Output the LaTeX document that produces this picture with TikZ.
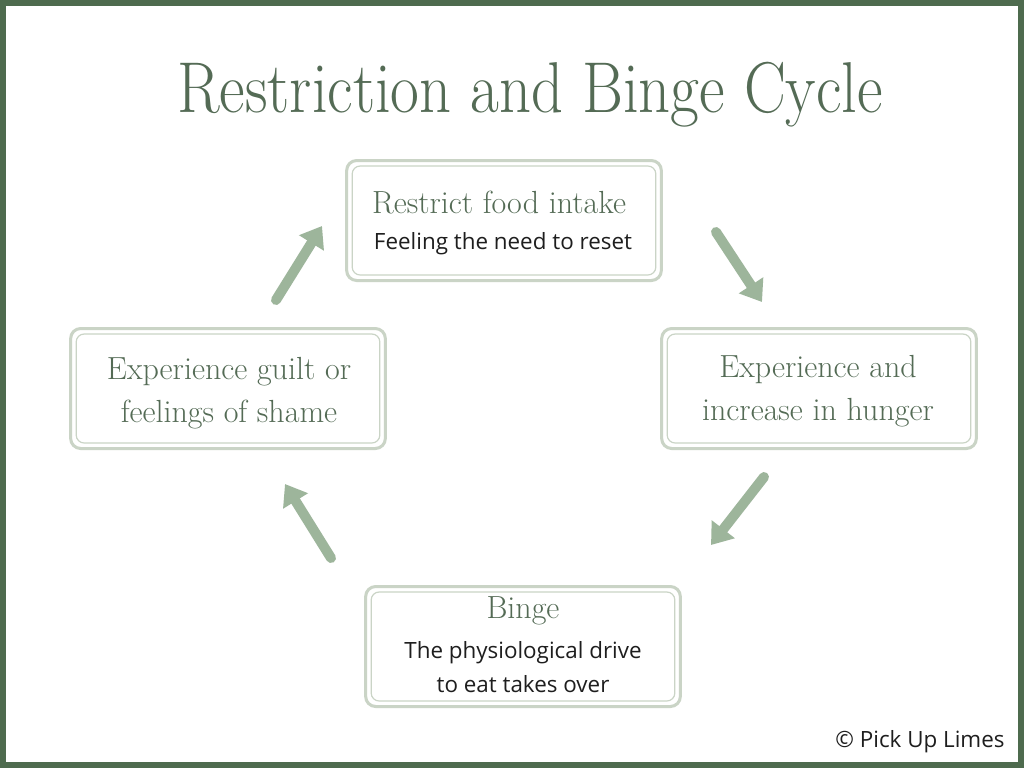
\documentclass[tikz,border=0pt]{standalone}
\usepackage{fontspec}
\setsansfont{Open Sans}
\usetikzlibrary{calc,arrows.meta}

\definecolor{framegreen}{HTML}{4E6B4E}
\definecolor{titlegreen}{HTML}{546B55}
\definecolor{boxline}{HTML}{CAD4C6}
\definecolor{arrowgreen}{HTML}{9DB59B}
\definecolor{bodytext}{HTML}{1E1E1E}

\tikzset{
  stagebox/.style={draw=boxline, line width=2.25pt, rounded corners=7.5pt,
    minimum width=236pt, minimum height=90pt},
  innerline/.style={draw=boxline, line width=0.9pt, rounded corners=6pt},
  headtext/.style={text=titlegreen, align=center, inner sep=0pt,
    font=\fontsize{24}{32}\selectfont},
  subtext/.style={text=bodytext, align=center, inner sep=0pt,
    font=\sffamily\fontsize{16.8}{26}\selectfont},
  cyclearrow/.style={draw=arrowgreen, line width=7.5pt, line cap=round,
    -{Triangle[length=15pt, width=21pt]}}
}

\begin{document}
\begin{tikzpicture}[x=0.75pt, y=-0.75pt]
    % Page and frame
    \useasboundingbox (0,0) rectangle (1024,768);
    \fill[white] (0,0) rectangle (1024,768);
    \draw[framegreen, line width=4.5pt] (3,3) rectangle (1021,765);

    % Title
    \node[text=titlegreen, inner sep=0pt, font=\fontsize{54}{60}\selectfont]
        (title) at (530,95) {\scalebox{0.87}[1]{Restriction and Binge Cycle}};

    % The four stages of the cycle
    \node[stagebox] (restrict) at (504,220.5) {};
    \node[stagebox] (hunger) at (819,388.5) {};
    \node[stagebox] (binge) at (523,646.5) {};
    \node[stagebox] (guilt) at (228,388.5) {};

    % Inner thin outlines
    \foreach \s in {restrict,hunger,binge,guilt}
        \draw[innerline] ($(\s.north west)+(7,7)$) rectangle ($(\s.south east)+(-7,-7)$);

    % Labels
    \node[headtext] (restricthead) at (499,203) {Restrict food intake};
    \node[subtext] (restrictsub) at (503,244) {Feeling the need to reset};
    \node[headtext] (hungerhead) at (818,391) {Experience and\\increase in hunger};
    \node[headtext] (guilthead) at (229,393) {Experience guilt or\\feelings of shame};
    \node[headtext] (bingehead) at (523,611) {Binge};
    \node[subtext] (bingesub) at (523,667) {The physiological drive\\to eat takes over};

    % Arrow end points
    \coordinate (a1s) at (716,232);
    \coordinate (a1e) at (762,302);
    \coordinate (a2s) at (764,477);
    \coordinate (a2e) at (711,545);
    \coordinate (a3s) at (331,558);
    \coordinate (a3e) at (285,484);
    \coordinate (a4s) at (276,300);
    \coordinate (a4e) at (322,226);

    % Arrows round the cycle
    \draw[cyclearrow] (a1s) -- (a1e);
    \draw[cyclearrow] (a2s) -- (a2e);
    \draw[cyclearrow] (a3s) -- (a3e);
    \draw[cyclearrow] (a4s) -- (a4e);

    % Credit
    \node[text=bodytext, inner sep=0pt, font=\sffamily\fontsize{16.8}{18}\selectfont]
        (credit) at (920,742) {© Pick Up Limes};

\end{tikzpicture}
\end{document}
